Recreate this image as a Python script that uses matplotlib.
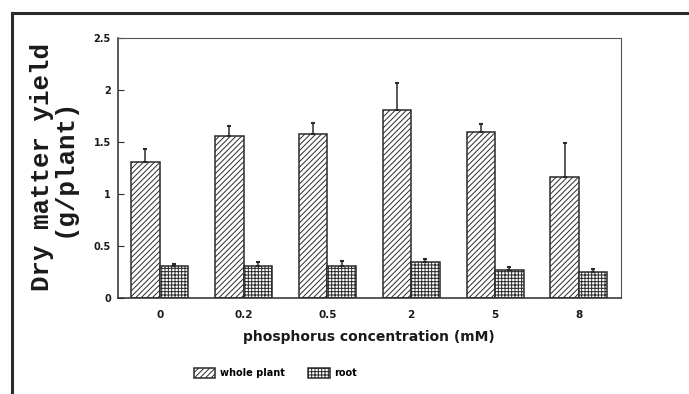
import matplotlib.pyplot as plt
import numpy as np
from matplotlib.lines import Line2D

plt.rcParams['hatch.linewidth'] = 0.7
plt.rcParams['hatch.color'] = '#333333'

concentrations = ['0', '0.2', '0.5', '2', '5', '8']
whole_plant = [1.31, 1.56, 1.58, 1.81, 1.59, 1.16]
whole_plant_err = [0.12, 0.09, 0.10, 0.26, 0.08, 0.33]
root = [0.31, 0.31, 0.31, 0.34, 0.27, 0.25]
root_err = [0.02, 0.03, 0.04, 0.03, 0.03, 0.03]
yticks = [0, 0.5, 1, 1.5, 2, 2.5]
ytick_labels = ['0', '0.5', '1', '1.5', '2', '2.5']

fig = plt.figure(figsize=(6.89, 3.94), dpi=100)
ax = fig.add_axes([0.171, 0.244, 0.730, 0.660])

x = np.arange(len(concentrations))
w = 0.34
ink = '#2b2b2b'

ax.bar(x - w / 2, whole_plant, w, color='white', edgecolor=ink, linewidth=1.1,
       hatch='//////', label='whole plant')
ax.bar(x + w / 2, root, w, color='white', edgecolor=ink, linewidth=1.1,
       hatch='+++++', label='root')
ax.errorbar(x - w / 2, whole_plant, yerr=[np.zeros(len(x)), whole_plant_err],
            fmt='none', ecolor=ink, elinewidth=1.1, capsize=1.2, capthick=1.5)
ax.errorbar(x + w / 2, root, yerr=[np.zeros(len(x)), root_err],
            fmt='none', ecolor=ink, elinewidth=1.1, capsize=1.2, capthick=1.5)

ax.set_xlim(-0.5, len(x) - 0.5)
ax.set_ylim(0, 2.5)
ax.set_yticks(yticks)
ax.set_yticklabels(ytick_labels, fontsize=7, fontweight='bold', color='#1a1a1a')
ax.set_xticks(x)
ax.set_xticklabels(concentrations, fontsize=7.5, fontweight='bold', color='#1a1a1a')
ax.tick_params(axis='y', direction='in', length=4, width=0.8, color=ink, pad=5)
ax.tick_params(axis='x', length=0, pad=9)
for side in ['left', 'bottom']:
    ax.spines[side].set_linewidth(1.1)
    ax.spines[side].set_color(ink)
for side in ['top', 'right']:
    ax.spines[side].set_linewidth(0.8)
    ax.spines[side].set_color('#555555')

ax.set_xlabel('phosphorus concentration (mM)', fontsize=10, fontweight='bold',
              color='#1a1a1a', labelpad=7)
fig.text(0.077, 0.575, 'Dry matter yield\n(g/plant)', rotation=90,
         ha='center', va='center', family='Liberation Mono', fontweight='bold',
         fontsize=18.5, color='#1a1a1a', linespacing=0.9)

ax.legend(loc='center', bbox_to_anchor=(0.40, 0.053), bbox_transform=fig.transFigure,
          ncol=2, frameon=False, prop={'size': 7, 'weight': 'bold'},
          handlelength=2.2, handleheight=1.3, columnspacing=2.4, handletextpad=0.5)

# page border from the scan
fig.add_artist(Line2D([0.018, 1.0], [0.966, 0.966], transform=fig.transFigure,
                      color=ink, linewidth=2.2))
fig.add_artist(Line2D([0.018, 0.018], [0.0, 0.966], transform=fig.transFigure,
                      color=ink, linewidth=2.2))

fig.savefig('out.png', dpi=100)
